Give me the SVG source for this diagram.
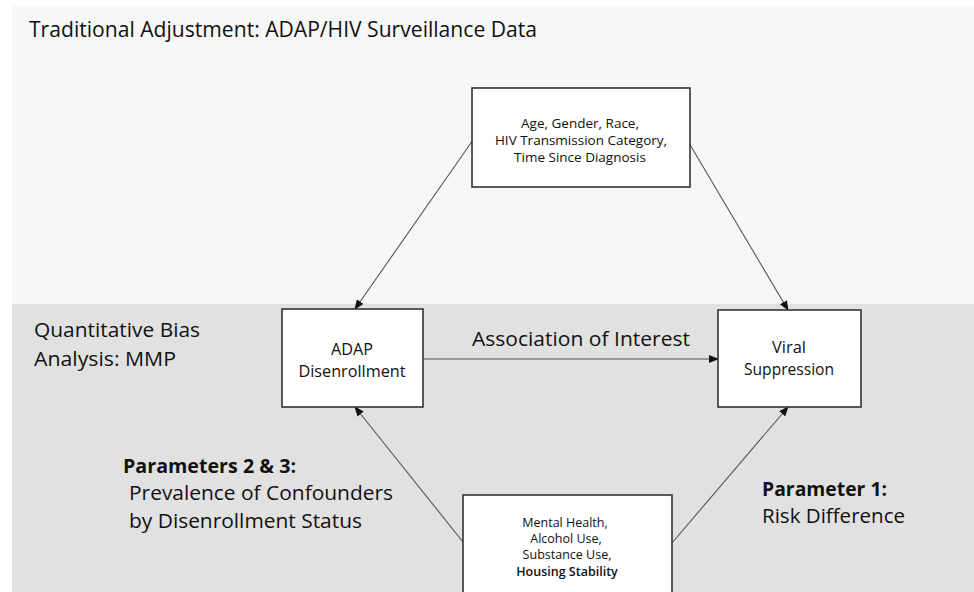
<svg xmlns="http://www.w3.org/2000/svg" width="974" height="592" viewBox="0 0 974 592">
  <style>
    .t { font-family: "Open Sans", "Liberation Sans", sans-serif; fill: #111; }
    .box { fill: #fff; stroke: #333; stroke-width: 1.6; }
    .edge { stroke: #555; stroke-width: 1.1; fill: none; marker-end: url(#head); }
  </style>
  <defs>
    <marker id="head" markerWidth="10" markerHeight="8" refX="9" refY="4" orient="auto" markerUnits="userSpaceOnUse">
      <path d="M0,0 L10,4 L0,8 z" fill="#111"/>
    </marker>
  </defs>

  <!-- background bands -->
  <rect x="0" y="0" width="974" height="592" fill="#fff"/>
  <rect x="12" y="6" width="962" height="298" fill="#f7f7f7"/>
  <rect x="12" y="304" width="962" height="288" fill="#e1e1e1"/>

  <!-- section labels -->
  <text class="t" x="29" y="37" font-size="21.5" textLength="508" lengthAdjust="spacingAndGlyphs">Traditional Adjustment: ADAP/HIV Surveillance Data</text>
  <text class="t" x="34" y="337" font-size="20" textLength="166" lengthAdjust="spacingAndGlyphs">Quantitative Bias</text>
  <text class="t" x="34" y="366" font-size="20" textLength="142" lengthAdjust="spacingAndGlyphs">Analysis: MMP</text>
  <text class="t" x="472" y="346" font-size="20" textLength="218" lengthAdjust="spacingAndGlyphs">Association of Interest</text>

  <text class="t" x="123" y="473" font-size="19" font-weight="bold" textLength="173" lengthAdjust="spacingAndGlyphs">Parameters 2 &amp; 3:</text>
  <text class="t" x="129" y="500" font-size="19.5" textLength="264" lengthAdjust="spacingAndGlyphs">Prevalence of Confounders</text>
  <text class="t" x="129" y="528" font-size="19.5" textLength="233" lengthAdjust="spacingAndGlyphs">by Disenrollment Status</text>

  <text class="t" x="762" y="496" font-size="19" font-weight="bold" textLength="125" lengthAdjust="spacingAndGlyphs">Parameter 1:</text>
  <text class="t" x="762" y="523" font-size="19.5" textLength="143" lengthAdjust="spacingAndGlyphs">Risk Difference</text>

  <!-- connectors -->
  <g id="connectors">
    <line class="edge" x1="473" y1="140" x2="355" y2="309"/>
    <line class="edge" x1="689" y1="143" x2="788" y2="310"/>
    <line class="edge" x1="423" y1="359" x2="718" y2="359"/>
    <line class="edge" x1="463" y1="542" x2="355" y2="407"/>
    <line class="edge" x1="672" y1="543" x2="788" y2="407"/>
  </g>

  <!-- nodes -->
  <g id="demographics">
    <rect class="box" x="472" y="88" width="218" height="99"/>
    <text class="t" x="580" y="128" font-size="13.5" text-anchor="middle">Age, Gender, Race,</text>
    <text class="t" x="581" y="145" font-size="13.5" text-anchor="middle">HIV Transmission Category,</text>
    <text class="t" x="580" y="162" font-size="13.5" text-anchor="middle">Time Since Diagnosis</text>
  </g>

  <g id="disenrollment">
    <rect class="box" x="282" y="309" width="141" height="98"/>
    <text class="t" x="352" y="355" font-size="16" textLength="42" lengthAdjust="spacingAndGlyphs" text-anchor="middle">ADAP</text>
    <text class="t" x="352" y="377" font-size="16" textLength="107" lengthAdjust="spacingAndGlyphs" text-anchor="middle">Disenrollment</text>
  </g>

  <g id="suppression">
    <rect class="box" x="718" y="310" width="143" height="97"/>
    <text class="t" x="789" y="353" font-size="16" textLength="34" lengthAdjust="spacingAndGlyphs" text-anchor="middle">Viral</text>
    <text class="t" x="789" y="375" font-size="16" textLength="90" lengthAdjust="spacingAndGlyphs" text-anchor="middle">Suppression</text>
  </g>

  <g id="confounders">
    <rect class="box" x="463" y="495" width="209" height="110"/>
    <text class="t" x="565" y="527" font-size="12.5" text-anchor="middle">Mental Health,</text>
    <text class="t" x="566" y="543" font-size="12.5" text-anchor="middle">Alcohol Use,</text>
    <text class="t" x="567" y="559" font-size="12.5" text-anchor="middle">Substance Use,</text>
    <text class="t" x="567" y="576" font-size="12.5" text-anchor="middle" font-weight="600">Housing Stability</text>
  </g>
</svg>
